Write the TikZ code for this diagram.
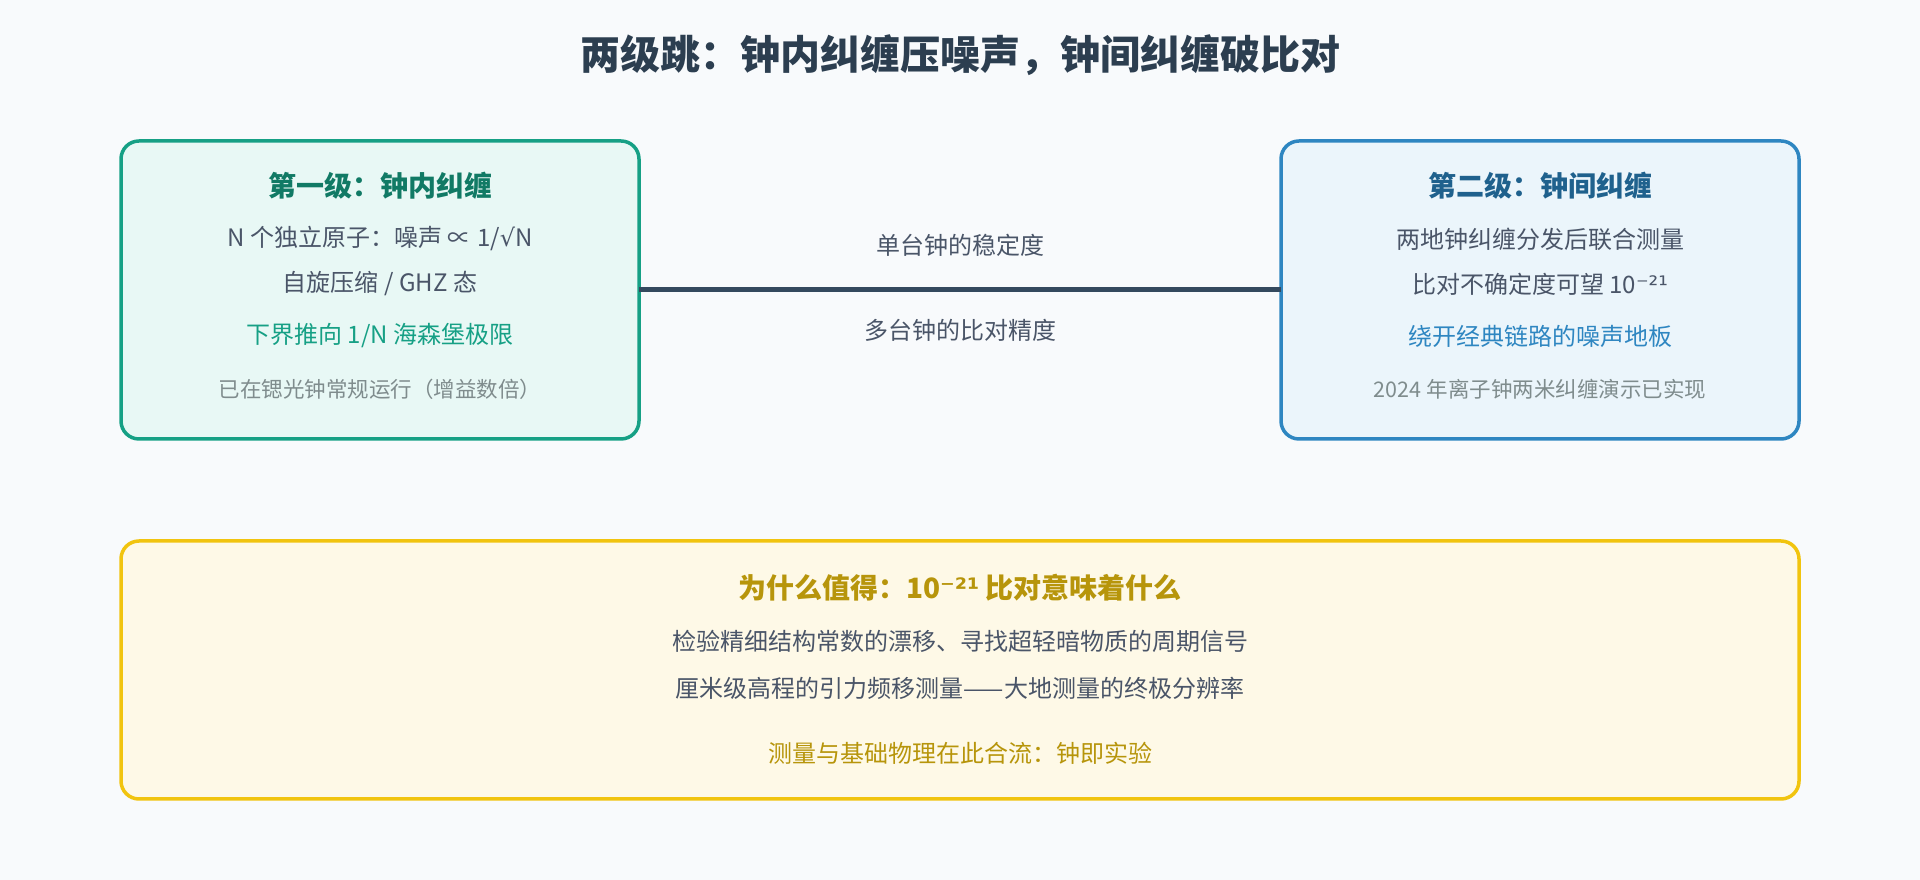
\documentclass[tikz,border=0pt]{standalone}
\usepackage{fontspec}
\setmainfont{Noto Sans CJK SC}
\newfontfamily\symfont{DejaVu Sans}
\usepackage{xcolor}
\usetikzlibrary{positioning, calc}

\definecolor{bgpage}{HTML}{F8FAFC}
\definecolor{titledark}{HTML}{2C3E50}
\definecolor{textgray}{HTML}{4A5568}
\definecolor{notegray}{HTML}{7F8C8D}
\definecolor{linkdark}{HTML}{34495E}
\definecolor{tealline}{HTML}{16A085}
\definecolor{tealfill}{HTML}{E8F8F5}
\definecolor{tealdark}{HTML}{117A65}
\definecolor{blueline}{HTML}{2E86C1}
\definecolor{bluefill}{HTML}{EBF5FB}
\definecolor{bluedark}{HTML}{1F618D}
\definecolor{goldline}{HTML}{F1C40F}
\definecolor{goldfill}{HTML}{FEF9E7}
\definecolor{golddark}{HTML}{B7950B}

\begin{document}
\begin{tikzpicture}[x=1pt, y=1pt]
\tikzstyle{levelbox} = [rectangle, rounded corners=18pt, line width=3.5pt, outer sep=0pt, minimum width=518pt, minimum height=298pt]
\tikzstyle{boxtitle} = [font=\fontsize{28}{32}\selectfont\bfseries, inner sep=0pt]
\tikzstyle{bodyline} = [font=\fontsize{24}{28}\selectfont, text=textgray, inner sep=0pt]
\tikzstyle{noteline} = [font=\fontsize{21.5}{26}\selectfont, text=notegray, inner sep=0pt]
\tikzstyle{link} = [line width=5pt, draw=linkdark]

\fill [bgpage] (0,0) rectangle (1920,880);

\node (head) [font=\fontsize{40}{46}\selectfont\bfseries, text=titledark, inner sep=0pt] at (960,825) {两级跳：钟内纠缠压噪声，钟间纠缠破比对};

\node (lvl1) [levelbox, draw=tealline, fill=tealfill] at (380,590) {};
\node (lvl2) [levelbox, draw=blueline, fill=bluefill, right=642pt of lvl1] {};
\node (why) [levelbox, draw=goldline, fill=goldfill, minimum width=1678pt, minimum height=258pt] at (960,210) {};

% first level
\node (t1) [boxtitle, text=tealdark] at ($(lvl1.north)+(0,-45)$) {第一级：钟内纠缠};
\node (a1) [bodyline] at ($(lvl1.north)+(0,-98)$) {N 个独立原子：噪声 ∝ 1/{\symfont √}N};
\node (a2) [bodyline] at ($(lvl1.north)+(0,-143)$) {自旋压缩 / GHZ 态};
\node (a3) [bodyline, text=tealline] at ($(lvl1.north)+(0,-195)$) {下界推向 1/N 海森堡极限};
\node (a4) [noteline] at ($(lvl1.north)+(0,-248)$) {已在锶光钟常规运行（增益数倍）};

% second level
\node (t2) [boxtitle, text=bluedark] at ($(lvl2.north)+(0,-45)$) {第二级：钟间纠缠};
\node (b1) [bodyline] at ($(lvl2.north)+(0,-98)$) {两地钟纠缠分发后联合测量};
\node (b2) [bodyline] at ($(lvl2.north)+(0,-143)$) {比对不确定度可望 10{\symfont ⁻²¹}};
\node (b3) [bodyline, text=blueline] at ($(lvl2.north)+(0,-195)$) {绕开经典链路的噪声地板};
\node (b4) [noteline] at ($(lvl2.north)+(0,-248)$) {2024 年离子钟两米纠缠演示已实现};

% why it matters
\node (t3) [boxtitle, text=golddark] at ($(why.north)+(0,-47)$) {为什么值得：10{\symfont ⁻²¹} 比对意味着什么};
\node (c1) [bodyline] at ($(why.north)+(0,-100)$) {检验精细结构常数的漂移、寻找超轻暗物质的周期信号};
\node (c2) [bodyline] at ($(why.north)+(0,-147)$) {厘米级高程的引力频移测量——大地测量的终极分辨率};
\node (c3) [bodyline, text=golddark] at ($(why.north)+(0,-212)$) {测量与基础物理在此合流：钟即实验};

\draw [link] (lvl1) -- node[bodyline, above=31pt] {单台钟的稳定度} node[bodyline, below=27pt] {多台钟的比对精度} (lvl2);

\end{tikzpicture}
\end{document}
